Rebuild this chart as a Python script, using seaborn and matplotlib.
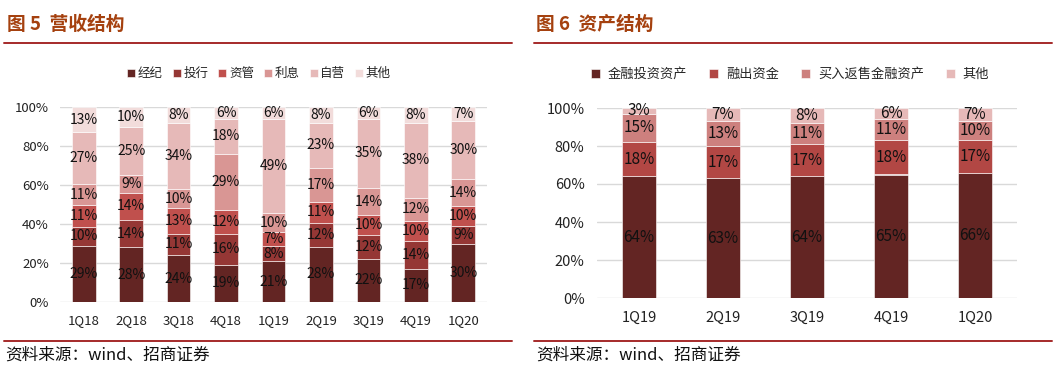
import numpy as np
import matplotlib
matplotlib.use("Agg")
import matplotlib.pyplot as plt
import seaborn as sns

# 图5 营收结构
quarters_l = ['1Q18', '2Q18', '3Q18', '4Q18', '1Q19', '2Q19', '3Q19', '4Q19', '1Q20']
jingji = [29, 28, 24, 19, 21, 28, 22, 17, 30]
touhang = [10, 14, 11, 16, 8, 12, 12, 14, 9]
ziguan = [11, 14, 13, 12, 7, 11, 10, 10, 10]
lixi = [11, 9, 10, 29, 10, 17, 14, 12, 14]
ziying = [27, 25, 34, 18, 49, 23, 35, 38, 30]
qita_l = [13, 10, 8, 6, 6, 8, 6, 8, 7]
names_l = ['经纪', '投行', '资管', '利息', '自营', '其他']
colors_l = ['#632523', '#953735', '#C0504D', '#D99694', '#E6B9B8', '#F2DCDB']

# 图6 资产结构
quarters_r = ['1Q19', '2Q19', '3Q19', '4Q19', '1Q20']
jinrong = [64, 63, 64, 65, 66]
rongchu = [18, 17, 17, 18, 17]
maifan = [15, 13, 11, 11, 10]
qita_r = [3, 7, 8, 6, 7]
names_r = ['金融投资资产', '融出资金', '买入返售金融资产', '其他']
colors_r = ['#632523', '#B24744', '#CD807E', '#E6B9B8']

sns.set_theme(style="white")
plt.rcParams['font.family'] = ['Noto Sans CJK SC', 'DejaVu Sans']

W, H = 1056, 373
fig = plt.figure(figsize=(W / 100, H / 100), dpi=100)


def box(x0, y0, x1, y1):
    # pixel box (top-left origin) -> figure fraction rect
    return [x0 / W, 1 - y1 / H, (x1 - x0) / W, (y1 - y0) / H]


def stacked(ax, cats, series, names, colors, width, lab_fs, tick_fs, ypad,
            leg_fs, colsp, txtpad, leg_x):
    data = np.array(series, dtype=float)
    share = data / data.sum(axis=0) * 100
    bottom = np.zeros(len(cats))
    for vals, h, name, c in zip(data, share, names, colors):
        sns.barplot(x=cats, y=h, bottom=bottom, color=c, width=width, ax=ax,
                    label=name, edgecolor='white', linewidth=0.4, saturation=1)
        ax.bar_label(ax.containers[-1], labels=[f'{int(v)}%' for v in vals],
                     label_type='center', fontsize=lab_fs, color='#111111')
        bottom += h
    ax.set_ylim(0, 100)
    ax.set_yticks(range(0, 101, 20))
    ax.set_yticklabels([f'{t}%' for t in range(0, 101, 20)])
    ax.yaxis.grid(True, color='#D9D9D9', linewidth=1)
    ax.set_axisbelow(True)
    sns.despine(ax=ax, left=True, bottom=True)
    ax.tick_params(axis='both', length=0, labelsize=tick_fs, colors='#222222')
    ax.tick_params(axis='y', pad=ypad)
    ax.tick_params(axis='x', pad=9)
    ax.set_xlabel('')
    ax.set_ylabel('')
    ax.legend(loc='lower center', bbox_to_anchor=(leg_x, 1.08), ncol=len(names),
              frameon=False, fontsize=leg_fs, handlelength=0.65, handleheight=0.65,
              handletextpad=txtpad, columnspacing=colsp)


ax1 = fig.add_axes(box(60, 107, 487, 302))
stacked(ax1, quarters_l, [jingji, touhang, ziguan, lixi, ziying, qita_l],
        names_l, colors_l, 0.5, 10, 9.5, 8, 9, 0.8, 0.2, 0.466)

ax2 = fig.add_axes(box(597, 108, 1017, 298))
stacked(ax2, quarters_r, [jinrong, rongchu, maifan, qita_r],
        names_r, colors_r, 0.4, 11, 10.5, 9, 9.5, 1.7, 0.6, 0.46)

# headers, rules and source notes
title_c = '#A5410F'
rule_c = '#A52A2A'
fig.text(7 / W, 1 - 24 / H, '图 5  营收结构', fontsize=13.5, fontweight='bold',
         color=title_c, va='center', ha='left')
fig.text(536 / W, 1 - 24 / H, '图 6  资产结构', fontsize=13.5, fontweight='bold',
         color=title_c, va='center', ha='left')
for x0, x1 in [(4, 512), (534, 1052)]:
    for y in (43, 341):
        fig.add_artist(plt.Line2D([x0 / W, x1 / W], [1 - y / H, 1 - y / H],
                                  color=rule_c, linewidth=1.4))
fig.text(5 / W, 1 - 355 / H, '资料来源：wind、招商证券', fontsize=12,
         color='#111111', va='center', ha='left')
fig.text(536 / W, 1 - 355 / H, '资料来源：wind、招商证券', fontsize=12,
         color='#111111', va='center', ha='left')

fig.savefig('out.png', dpi=100, facecolor='white')
